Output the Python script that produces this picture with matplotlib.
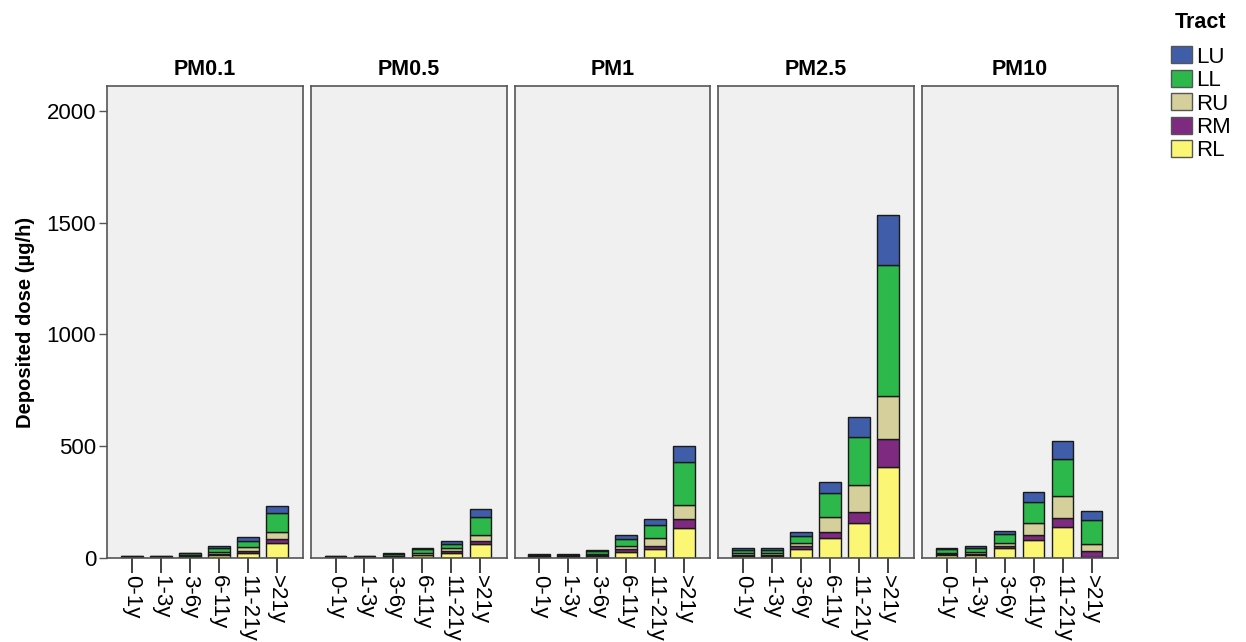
import matplotlib.pyplot as plt
from matplotlib.patches import Patch

plt.rcParams["font.family"] = ["Liberation Sans", "DejaVu Sans"]

AGES = ["0-1y", "1-3y", "3-6y", "6-11y", "11-21y", ">21y"]
PANELS = ["PM0.1", "PM0.5", "PM1", "PM2.5", "PM10"]
TRACTS = ["RL", "RM", "RU", "LL", "LU"]  # stacking order, bottom to top
LEGEND_ORDER = ["LU", "LL", "RU", "RM", "RL"]

COLORS = {
    "LU": "#3f5da9",
    "LL": "#2db84b",
    "RU": "#d5d09b",
    "RM": "#7d2a80",
    "RL": "#fbf673",
}

# deposited dose (ug/h) per tract, one list per particle size, values by age group
pm01 = {
    "RL": [2, 2, 6, 13, 22, 66],
    "RM": [1, 1, 2, 5, 11, 19],
    "RU": [1, 1, 3, 8, 15, 30],
    "LL": [3, 3, 9, 19, 29, 88],
    "LU": [1, 1, 4, 10, 16, 31],
}
pm05 = {
    "RL": [2, 2, 5, 11, 21, 61],
    "RM": [1, 1, 2, 4, 12, 16],
    "RU": [1, 1, 3, 7, 10, 26],
    "LL": [4, 4, 8, 16, 20, 82],
    "LU": [1, 1, 3, 8, 13, 33],
}
pm1 = {
    "RL": [4, 4, 9, 28, 40, 133],
    "RM": [2, 2, 3, 11, 15, 41],
    "RU": [2, 2, 5, 15, 36, 63],
    "LL": [6, 6, 13, 30, 57, 191],
    "LU": [3, 3, 6, 19, 26, 74],
}
pm25 = {
    "RL": [10, 9, 40, 91, 158, 408],
    "RM": [3, 4, 15, 24, 46, 124],
    "RU": [7, 7, 11, 67, 123, 194],
    "LL": [15, 15, 32, 108, 213, 585],
    "LU": [8, 8, 20, 51, 92, 224],
}
pm10 = {
    "RL": [14, 15, 46, 81, 140, 6],
    "RM": [3, 4, 9, 22, 38, 25],
    "RU": [6, 8, 11, 55, 99, 30],
    "LL": [15, 18, 40, 94, 166, 107],
    "LU": [8, 10, 15, 45, 80, 40],
}
DATA = [pm01, pm05, pm1, pm25, pm10]

fig, axes = plt.subplots(1, 5, figsize=(12.46, 6.42), dpi=100, sharey=True)
fig.subplots_adjust(left=0.086, right=0.897, bottom=0.131, top=0.866, wspace=0.041)

x = list(range(len(AGES)))
for ax, name, panel in zip(axes, PANELS, DATA):
    ax.set_facecolor("#f0f0f0")
    bottom = [0] * len(AGES)
    for tract in TRACTS:
        vals = panel[tract]
        ax.bar(x, vals, width=0.75, bottom=bottom, color=COLORS[tract],
               edgecolor="#1a1a1a", linewidth=1.0, zorder=2)
        bottom = [b + v for b, v in zip(bottom, vals)]
    ax.set_xlim(-0.85, 5.9)
    ax.set_ylim(0, 2112)
    ax.set_title(name, fontsize=15.5, fontweight="bold", pad=8)
    ax.set_xticks(x)
    ax.set_xticklabels(AGES, rotation=-90, fontsize=16, va="top", ha="center")
    ax.tick_params(axis="x", length=11, width=1.3, color="#333333", pad=1)
    for s in ax.spines.values():
        s.set_color("#555555")
        s.set_linewidth(1.2)

axes[0].set_yticks([0, 500, 1000, 1500, 2000])
axes[0].tick_params(axis="y", labelsize=16, length=6, width=1.0, color="#555555", pad=2)
for ax in axes[1:]:
    ax.tick_params(axis="y", left=False)
axes[0].set_ylabel("Deposited dose (\u00b5g/h)", fontsize=14.5, fontweight="bold", labelpad=8)

handles = [Patch(facecolor=COLORS[t], edgecolor="#555555", label=t) for t in LEGEND_ORDER]
leg = fig.legend(handles=handles, title="Tract", loc="upper left",
                 bbox_to_anchor=(0.940, 0.982), frameon=False, fontsize=16,
                 title_fontsize=15.5, handlelength=0.95, handleheight=0.8,
                 handletextpad=0.15, labelspacing=0.1, borderaxespad=0,
                 borderpad=0)
leg.get_title().set_fontweight("bold")
leg._legend_box.sep = 10

fig.savefig("out.png", dpi=100)
